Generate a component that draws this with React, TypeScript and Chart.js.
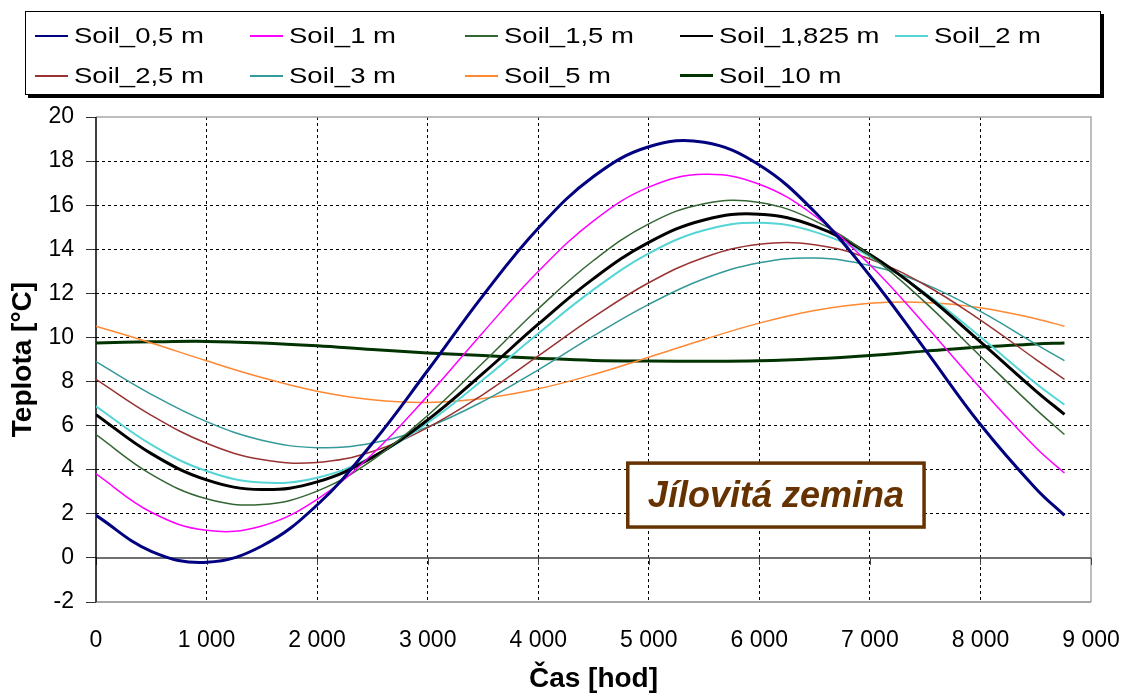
import React, { useEffect, useRef } from "react";
import { Chart, registerables } from "chart.js";

Chart.register(...registerables);

// ---------- data ----------
const hours = [0, 500, 1000, 1500, 2000, 2500, 3000, 3500, 4000, 4500, 5000, 5500, 6000, 6500, 7000, 7500, 8000, 8500, 8760];

const soil05 = [1.93, 0.3, -0.2, 0.54, 2.4, 5.2, 8.5, 11.9, 14.95, 17.3, 18.65, 18.85, 17.82, 15.7, 12.8, 9.45, 6.05, 3.15, 1.93];
const soil1 = [3.81, 2.07, 1.25, 1.45, 2.66, 4.71, 7.35, 10.23, 12.99, 15.29, 16.82, 17.4, 16.95, 15.52, 13.3, 10.57, 7.7, 5.01, 3.85];
const soil15 = [5.59, 3.79, 2.68, 2.42, 3.03, 4.44, 6.46, 8.85, 11.3, 13.49, 15.15, 16.07, 16.12, 15.3, 13.72, 11.59, 9.15, 6.75, 5.6];
const soil1825 = [6.5, 4.73, 3.54, 3.1, 3.45, 4.56, 6.26, 8.37, 10.6, 12.67, 14.31, 15.33, 15.59, 15.05, 13.76, 11.95, 9.8, 7.58, 6.51];
const soil2 = [6.88, 5.14, 3.94, 3.42, 3.64, 4.59, 6.13, 8.08, 10.18, 12.17, 13.81, 14.86, 15.2, 14.79, 13.67, 12.01, 10.02, 7.92, 6.95];
const soil25 = [8.1, 6.47, 5.2, 4.46, 4.33, 4.83, 5.91, 7.41, 9.16, 10.92, 12.48, 13.63, 14.23, 14.21, 13.56, 12.38, 10.79, 9.01, 8.1];
const soil3 = [8.9, 7.42, 6.18, 5.34, 5.0, 5.21, 5.94, 7.1, 8.53, 10.07, 11.5, 12.66, 13.39, 13.6, 13.26, 12.42, 11.18, 9.7, 8.95];
const soil5 = [10.51, 9.75, 8.94, 8.18, 7.56, 7.17, 7.05, 7.23, 7.67, 8.32, 9.1, 9.91, 10.65, 11.22, 11.55, 11.59, 11.35, 10.85, 10.51];
const soil10 = [9.75, 9.8, 9.82, 9.75, 9.62, 9.45, 9.3, 9.18, 9.06, 8.96, 8.93, 8.92, 8.94, 9.03, 9.18, 9.38, 9.57, 9.7, 9.75];

const seriesNames = ["Soil_0,5 m", "Soil_1 m", "Soil_1,5 m", "Soil_1,825 m", "Soil_2 m", "Soil_2,5 m", "Soil_3 m", "Soil_5 m", "Soil_10 m"];
const seriesValues = [soil05, soil1, soil15, soil1825, soil2, soil25, soil3, soil5, soil10];
const seriesColors = ["#000080", "#ff00ff", "#336633", "#000000", "#55d5d5", "#993333", "#339999", "#ff8833", "#003300"];
const seriesWidths = [3, 1.5, 1.5, 3, 2, 1.5, 1.5, 1.5, 3];

const xMin = 0, xMax = 9000, xStep = 1000;
const yMin = -2, yMax = 20, yStep = 2;
const xTitle = "Čas [hod]";
const yTitle = "Teplota [°C]";
const annotationText = "Jílovitá zemina";
const annotationBox = { x0: 4810, x1: 7490, y0: 1.4, y1: 4.3 };

const FONT = "'Liberation Sans', Arial, sans-serif";

const fmtThousands = (v: number) => String(v).replace(/\B(?=(\d{3})+(?!\d))/g, " ");

const framePlugin = {
  id: "frame",
  beforeDatasetsDraw(chart: any) {
    const { ctx, chartArea: a, scales } = chart;
    const x = scales.x, y = scales.y;
    ctx.save();
    ctx.setLineDash([]);
    ctx.lineWidth = 1.5;
    ctx.strokeStyle = "#a8a8a8";
    ctx.beginPath();
    ctx.moveTo(a.left, a.top);
    ctx.lineTo(a.right, a.top);
    ctx.lineTo(a.right, a.bottom);
    ctx.stroke();
    ctx.strokeStyle = "#8a8a8a";
    ctx.beginPath();
    ctx.moveTo(a.left, a.bottom);
    ctx.lineTo(a.right, a.bottom);
    ctx.stroke();
    const y0 = y.getPixelForValue(0);
    ctx.strokeStyle = "#404040";
    ctx.lineWidth = 1.5;
    ctx.beginPath();
    ctx.moveTo(a.left, y0);
    ctx.lineTo(a.right, y0);
    ctx.stroke();
    ctx.lineWidth = 1;
    for (const t of x.ticks) {
      const px = Math.round(x.getPixelForValue(t.value)) + 0.5;
      ctx.beginPath();
      ctx.moveTo(px, y0);
      ctx.lineTo(px, y0 + 7);
      ctx.stroke();
    }
    ctx.strokeStyle = "#000";
    ctx.lineWidth = 1.5;
    ctx.beginPath();
    ctx.moveTo(a.left, a.top);
    ctx.lineTo(a.left, a.bottom);
    ctx.stroke();
    ctx.restore();
  },
  afterDatasetsDraw(chart: any) {
    const { ctx, scales } = chart;
    const x = scales.x, y = scales.y;
    const l = x.getPixelForValue(annotationBox.x0);
    const r = x.getPixelForValue(annotationBox.x1);
    const t = y.getPixelForValue(annotationBox.y1);
    const b = y.getPixelForValue(annotationBox.y0);
    ctx.save();
    ctx.fillStyle = "#ffffff";
    ctx.fillRect(l, t, r - l, b - t);
    ctx.strokeStyle = "#663300";
    ctx.lineWidth = 3.5;
    ctx.strokeRect(l, t, r - l, b - t);
    ctx.fillStyle = "#663300";
    ctx.font = `italic bold 36px ${FONT}`;
    ctx.textAlign = "center";
    ctx.textBaseline = "alphabetic";
    ctx.fillText(annotationText, (l + r) / 2, b - 20);
    ctx.restore();
  },
};

function Legend() {
  const rowCenters = [35, 74.5];
  const colLeft = [35, 250, 465, 680, 895];
  return (
    <div
      style={{
        position: "absolute",
        left: 25,
        top: 11,
        width: 1076,
        height: 84,
        border: "1.5px solid #000",
        boxShadow: "3px 3px 0 #000",
        background: "#fff",
        boxSizing: "border-box",
      }}
    >
      {seriesNames.map((name, i) => {
        const row = i < 5 ? 0 : 1;
        const col = i < 5 ? i : i - 5;
        return (
          <div
            key={name}
            style={{
              position: "absolute",
              left: colLeft[col] - 26.5,
              top: rowCenters[row] - 11 - 15,
              height: 30,
              display: "flex",
              alignItems: "center",
              whiteSpace: "nowrap",
            }}
          >
            <div style={{ width: 33, height: Math.max(2, seriesWidths[i] - 0.5), background: seriesColors[i] }} />
            <span
              style={{
                marginLeft: 6,
                fontFamily: FONT,
                fontSize: 22,
                lineHeight: 1,
                color: "#000",
                display: "inline-block",
                transform: "scaleX(1.25)",
                transformOrigin: "left center",
              }}
            >
              {name}
            </span>
          </div>
        );
      })}
    </div>
  );
}

export default function App() {
  const canvasRef = useRef<HTMLCanvasElement | null>(null);

  useEffect(() => {
    if (!canvasRef.current) return;
    const datasets = seriesNames.map((name, i) => ({
      label: name,
      data: hours.map((h, j) => ({ x: h, y: seriesValues[i][j] })),
      borderColor: seriesColors[i],
      backgroundColor: seriesColors[i],
      borderWidth: seriesWidths[i],
      pointRadius: 0,
      tension: 0.4,
      fill: false,
    }));
    const chart = new Chart(canvasRef.current, {
      type: "line",
      data: { datasets },
      plugins: [framePlugin],
      options: {
        animation: false,
        responsive: false,
        devicePixelRatio: 1,
        layout: { padding: { top: 117, right: 33, left: 0, bottom: 0 } },
        plugins: { legend: { display: false }, tooltip: { enabled: false } },
        scales: {
          x: {
            type: "linear",
            min: xMin,
            max: xMax,
            afterFit: (s: any) => {
              s.height = 91;
              s.paddingLeft = 0;
              s.paddingRight = 0;
            },
            ticks: {
              stepSize: xStep,
              color: "#000",
              padding: 25,
              font: { family: FONT, size: 23 },
              callback: (v: any) => fmtThousands(Number(v)),
              maxRotation: 0,
              autoSkip: false,
            },
            grid: {
              color: (c: any) => (c.tick && (c.tick.value === xMin || c.tick.value === xMax) ? "rgba(0,0,0,0)" : "#000"),
              lineWidth: 1,
              drawTicks: false,
            },
            border: { display: false, dash: [3, 3] },
            title: {
              display: true,
              text: xTitle,
              color: "#000",
              font: { family: FONT, size: 28, weight: "bold", lineHeight: 1 },
              padding: { top: 0, bottom: 0 },
            },
          },
          y: {
            type: "linear",
            min: yMin,
            max: yMax,
            afterFit: (s: any) => {
              s.width = 96;
              s.paddingTop = 0;
              s.paddingBottom = 0;
            },
            ticks: {
              stepSize: yStep,
              color: "#000",
              padding: 12,
              font: { family: FONT, size: 23 },
            },
            grid: {
              color: (c: any) =>
                c.tick && (c.tick.value === yMin || c.tick.value === 0 || c.tick.value === yMax) ? "rgba(0,0,0,0)" : "#000",
              lineWidth: 1,
              drawTicks: true,
              tickLength: 10,
              tickColor: "#333",
              tickWidth: 1,
            },
            border: { display: false, dash: [3, 3] },
            title: {
              display: true,
              text: yTitle,
              color: "#000",
              font: { family: FONT, size: 28, weight: "bold", lineHeight: 1 },
              padding: { top: 9, bottom: 0 },
            },
          },
        },
      } as any,
    });
    return () => chart.destroy();
  }, []);

  return (
    <div style={{ position: "fixed", left: 0, top: 0, width: 1124, height: 693, background: "#fff" }}>
      <canvas ref={canvasRef} width={1124} height={693} style={{ position: "absolute", left: 0, top: 0 }} />
      <Legend />
    </div>
  );
}
